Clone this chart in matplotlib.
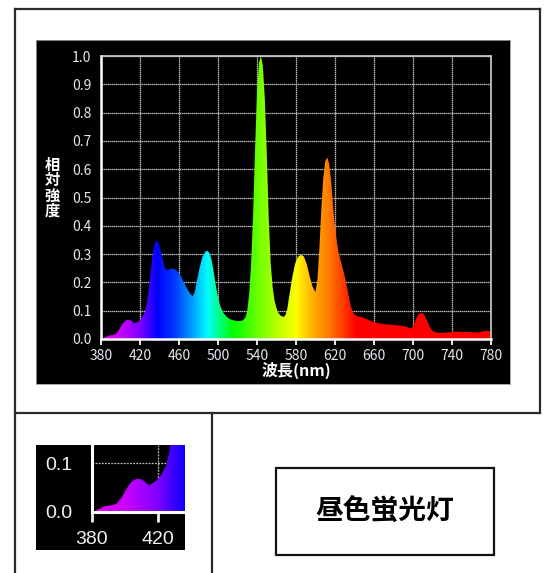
import numpy as np
import matplotlib
matplotlib.use("Agg")
import matplotlib.pyplot as plt
from matplotlib.colors import LinearSegmentedColormap, Normalize
from matplotlib.lines import Line2D
from matplotlib.patches import Rectangle

plt.rcParams['font.family'] = ['Noto Sans CJK JP', 'DejaVu Sans']

# relative spectral intensity of a daylight fluorescent lamp
wavelength = [381, 384, 388, 392, 395, 398, 401, 404, 407, 410, 412, 414, 416, 419,
              422, 425, 427, 429, 431, 433, 435, 437, 439, 441, 443, 445, 447, 450,
              453, 456, 459, 462, 465, 468, 471, 474, 476, 478, 481, 484, 487, 489,
              491, 493, 495, 497, 499, 502, 505, 509, 513, 517, 521, 525, 528, 530,
              532, 534, 536, 538, 540, 542, 544, 546, 548, 550, 552, 554, 556, 558,
              561, 564, 567, 569, 571, 573, 576, 579, 582, 585, 588, 591, 594, 597,
              600, 602, 604, 606, 608, 610, 612, 614, 616, 618, 620, 622, 624, 627,
              630, 633, 636, 639, 642, 646, 650, 654, 658, 662, 666, 670, 675, 680,
              685, 690, 694, 697, 699, 701, 703, 705, 707, 709, 711, 713, 715, 717,
              719, 722, 726, 730, 735, 738, 742, 746, 750, 755, 760, 765, 768, 771,
              775, 779]
intensity = [0.000, 0.006, 0.012, 0.014, 0.017, 0.030, 0.048, 0.062, 0.068, 0.067, 0.062,
             0.056, 0.057, 0.064, 0.076, 0.095, 0.125, 0.175, 0.240, 0.300, 0.335, 0.350,
             0.340, 0.315, 0.285, 0.258, 0.244, 0.246, 0.250, 0.247, 0.238, 0.222, 0.200,
             0.180, 0.162, 0.150, 0.165, 0.200, 0.250, 0.290, 0.308, 0.312, 0.305, 0.285,
             0.250, 0.205, 0.165, 0.120, 0.095, 0.078, 0.069, 0.065, 0.063, 0.065, 0.075,
             0.100, 0.160, 0.270, 0.440, 0.670, 0.870, 0.975, 1.000, 0.965, 0.850, 0.660,
             0.430, 0.270, 0.185, 0.135, 0.097, 0.083, 0.078, 0.083, 0.105, 0.150, 0.215,
             0.265, 0.290, 0.298, 0.292, 0.265, 0.222, 0.185, 0.166, 0.210, 0.320, 0.460,
             0.570, 0.628, 0.642, 0.620, 0.560, 0.470, 0.395, 0.340, 0.300, 0.262, 0.222,
             0.170, 0.118, 0.090, 0.082, 0.078, 0.074, 0.068, 0.062, 0.058, 0.055, 0.053,
             0.051, 0.050, 0.048, 0.046, 0.042, 0.037, 0.040, 0.052, 0.070, 0.084, 0.091,
             0.092, 0.088, 0.076, 0.060, 0.044, 0.032, 0.025, 0.022, 0.022, 0.022, 0.024,
             0.026, 0.026, 0.025, 0.025, 0.024, 0.023, 0.023, 0.027, 0.029, 0.028]

x_ticks = [380, 420, 460, 500, 540, 580, 620, 660, 700, 740, 780]
y_ticks = [0.0, 0.1, 0.2, 0.3, 0.4, 0.5, 0.6, 0.7, 0.8, 0.9, 1.0]
lamp_name = '昼色蛍光灯'

# colour of visible light across the wavelength range
spectrum_nodes = [(380, '#e400f4'), (400, '#c800ff'), (420, '#7a00ff'), (437, '#0000ff'),
                  (455, '#0038ff'), (472, '#0098ff'), (489, '#00ffff'), (503, '#00ff70'),
                  (515, '#00ff00'), (545, '#7cff00'), (565, '#c8ff00'), (580, '#ffff00'),
                  (597, '#ffb000'), (612, '#ff8000'), (626, '#ff4800'), (642, '#ff0000'),
                  (780, '#ff0000')]
norm = Normalize(380, 780)
cmap = LinearSegmentedColormap.from_list(
    'spectrum', [(norm(w), c) for w, c in spectrum_nodes])

W, H = 546, 573
fig = plt.figure(figsize=(W / 100, H / 100), dpi=100)
fig.patch.set_facecolor('white')


def fbox(x0, y0, x1, y1):
    # pixel box (top-left origin) -> figure fraction rect
    return [x0 / W, 1 - y1 / H, (x1 - x0) / W, (y1 - y0) / H]


def fline(xs, ys, **kw):
    fig.add_artist(Line2D([x / W for x in xs], [1 - y / H for y in ys],
                          transform=fig.transFigure, **kw))


def spectrum_fill(ax, x0, x1):
    poly = ax.fill_between(wavelength, intensity, color='none', lw=0)
    grad = np.linspace(380, 780, 800).reshape(1, -1)
    im = ax.imshow(grad, extent=[380, 780, 0, 1], aspect='auto', cmap=cmap,
                   norm=norm, origin='lower', zorder=2)
    im.set_clip_path(poly.get_paths()[0], transform=ax.transData)
    ax.set_xlim(x0, x1)


# black chart background
bg = fig.add_axes(fbox(36, 40, 510, 384))
bg.set_facecolor('black')
bg.set_xticks([])
bg.set_yticks([])
for s in bg.spines.values():
    s.set_color('#9a9a9a')
    s.set_linewidth(0.6)

ax = fig.add_axes(fbox(101, 56, 491, 339))
ax.set_facecolor('black')
spectrum_fill(ax, 380, 780)
ax.set_ylim(0, 1.0)
ax.set_xticks(x_ticks)
ax.set_yticks(y_ticks)
ax.set_yticklabels([f'{v:.1f}' for v in y_ticks])
ax.grid(True, color='#b8b8b8', lw=0.9, ls=(0, (1.2, 0.4)), zorder=1)
ax.set_axisbelow(True)
for side in ['left', 'bottom']:
    ax.spines[side].set_color('white')
    ax.spines[side].set_linewidth(1.8)
for side in ['top', 'right']:
    ax.spines[side].set_color('#d0d0d0')
    ax.spines[side].set_linewidth(1.2)
ax.tick_params(axis='x', colors='#e6e6ee', labelsize=10, length=4, width=1.4,
               direction='out', pad=3)
ax.tick_params(axis='y', colors='#e6e6ee', labelsize=10, length=0, pad=7)
ax.set_xlabel('波長(nm)', color='white', fontsize=11.5, fontweight='bold', labelpad=-1)

fig.text(52 / W, 1 - 188 / H, '相\n対\n強\n度', color='white', fontsize=11,
         fontweight='bold', ha='center', va='center', linespacing=0.95)

# enlarged view of the violet end
ibg = fig.add_axes(fbox(36, 445, 185, 550))
ibg.set_facecolor('black')
ibg.set_xticks([])
ibg.set_yticks([])
for s in ibg.spines.values():
    s.set_visible(False)

ins = fig.add_axes(fbox(92, 445, 185, 512))
ins.set_facecolor('black')
spectrum_fill(ins, 380, 436.4)
ins.set_ylim(0, 0.137)
ins.set_xticks([380, 420])
ins.set_yticks([0.0, 0.1])
ins.set_yticklabels(['0.0', '0.1'])
ins.grid(True, color='#bdbdbd', lw=0.9, ls=(0, (1.5, 1)), zorder=1)
ins.set_axisbelow(True)
for side in ['top', 'right']:
    ins.spines[side].set_visible(False)
for side in ['left', 'bottom']:
    ins.spines[side].set_color('white')
    ins.spines[side].set_linewidth(2.2)
ins.tick_params(axis='x', colors='#f0f0f0', labelsize=14, length=7, width=2, pad=7)
ins.tick_params(axis='y', colors='#f0f0f0', labelsize=14, length=0, pad=14)
for t in ins.get_xticklabels() + ins.get_yticklabels():
    t.set_family(['Liberation Sans', 'DejaVu Sans'])

# table-like frame lines
frame = dict(color='#2a2a2a', lw=1.6)
fline([15, 540], [9, 9], **frame)
fline([15, 15], [9, 573], **frame)
fline([540, 540], [9, 413], **frame)
fline([15, 540], [413, 413], **frame)
fline([212, 212], [413, 573], **frame)

# lamp name box
fig.add_artist(Rectangle((276 / W, 1 - 555 / H), 218 / W, 87 / H, transform=fig.transFigure,
                         fill=False, edgecolor='#111111', lw=1.6))
fig.text(385 / W, 1 - 512 / H, lamp_name, fontsize=20, fontweight='bold',
         ha='center', va='center', color='black')

fig.savefig('out.png', dpi=100, facecolor='white')
